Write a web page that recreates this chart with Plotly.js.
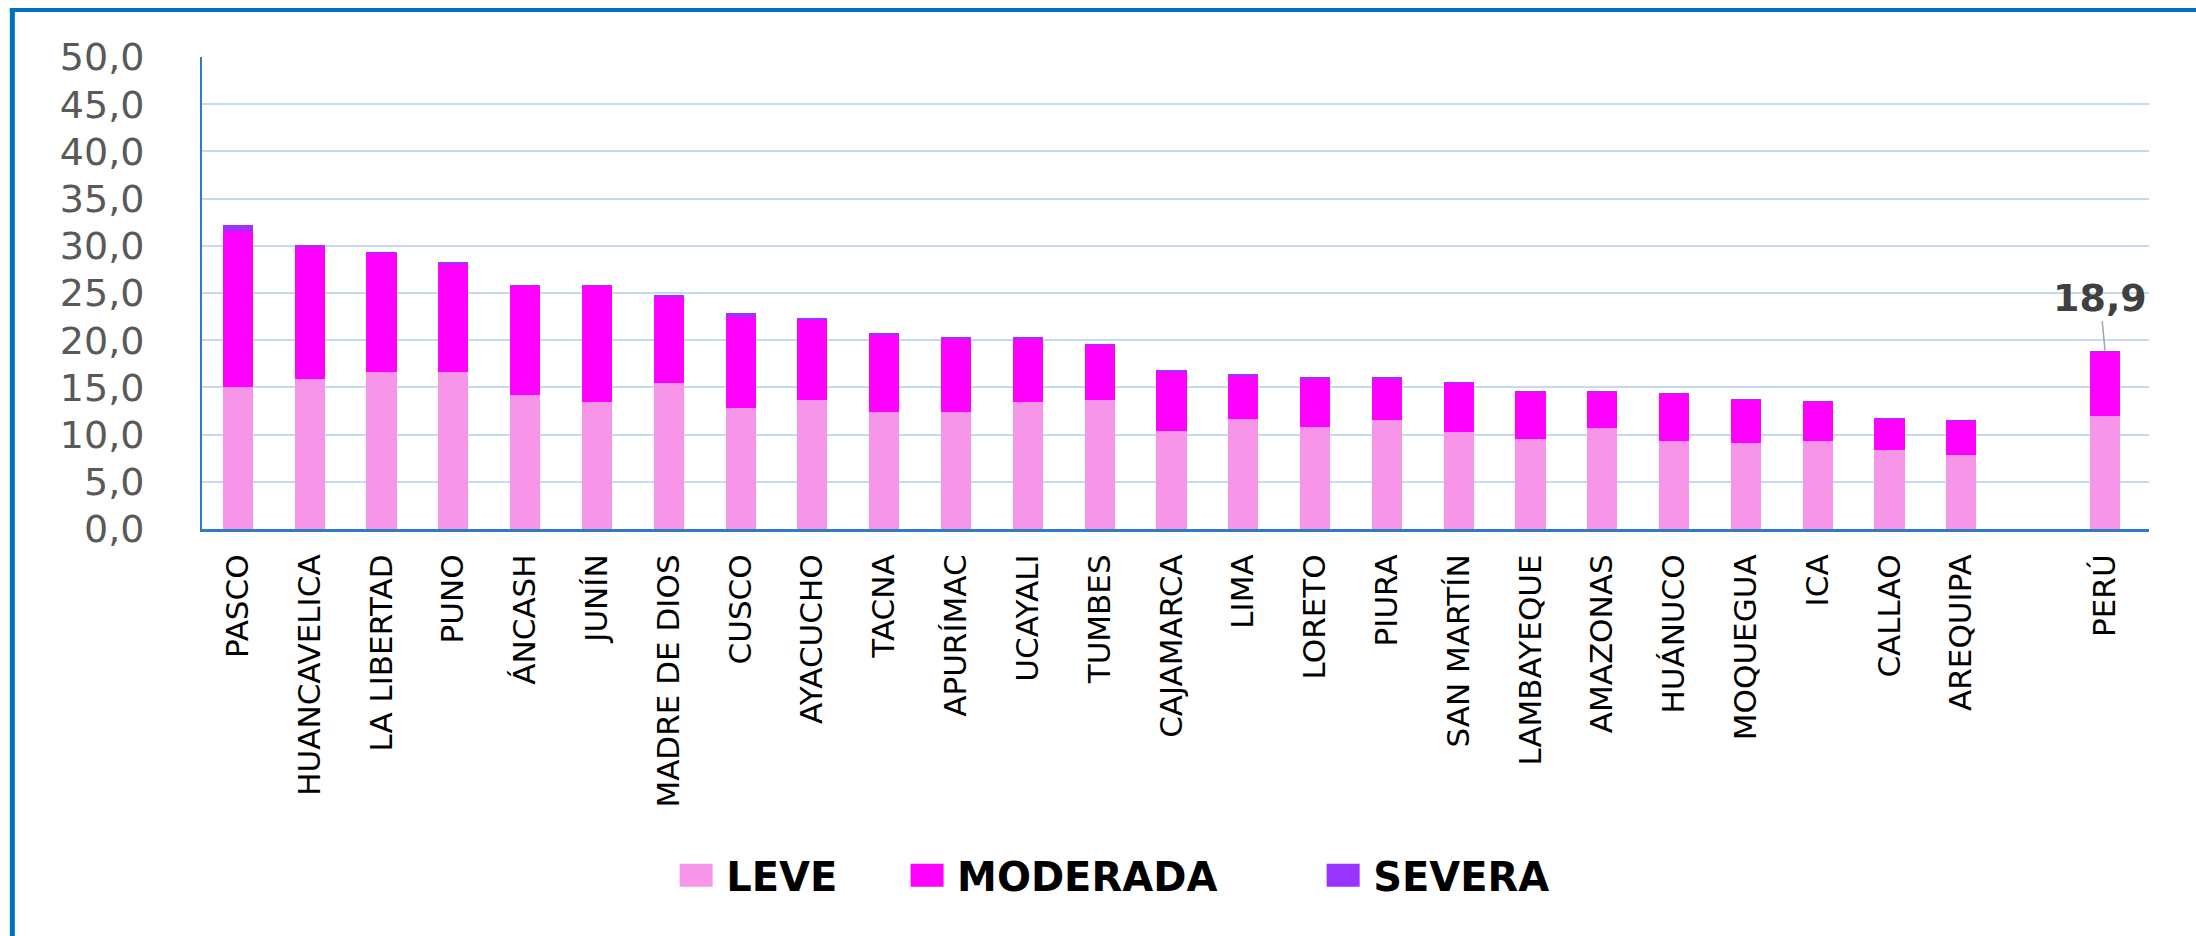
<!DOCTYPE html>
<html>
<head>
<meta charset="utf-8">
<script src="https://cdn.plot.ly/plotly-3.0.1.min.js"></script>
<style>
html, body { margin: 0; padding: 0; background: #ffffff; }
#chart { width: 2196px; height: 936px; }
</style>
</head>
<body>
<div id="chart"></div>
<script>
// Categories (the blank entry is the gap before the national total)
const categories = ["PASCO", "HUANCAVELICA", "LA LIBERTAD", "PUNO", "ÁNCASH", "JUNÍN", "MADRE DE DIOS",
  "CUSCO", "AYACUCHO", "TACNA", "APURÍMAC", "UCAYALI", "TUMBES", "CAJAMARCA", "LIMA", "LORETO",
  "PIURA", "SAN MARTÍN", "LAMBAYEQUE", "AMAZONAS", "HUÁNUCO", "MOQUEGUA", "ICA", "CALLAO", "AREQUIPA",
  " ", "PERÚ"];

// Series values (%)
const leve = [15.0, 15.9, 16.6, 16.6, 14.2, 13.5, 15.45, 12.8, 13.7, 12.4, 12.4, 13.5, 13.7, 10.4, 11.7,
  10.8, 11.5, 10.25, 9.5, 10.7, 9.3, 9.1, 9.3, 8.4, 7.8, null, 12.0];
const moderada = [16.6, 14.0, 12.6, 11.5, 11.5, 12.2, 9.1, 9.7, 8.4, 8.2, 7.75, 6.65, 5.8, 6.2, 4.5,
  5.1, 4.4, 5.2, 5.05, 3.85, 5.05, 4.55, 4.15, 3.25, 3.6, null, 6.8];
const severa = [0.6, 0.15, 0.15, 0.15, 0.15, 0.15, 0.2, 0.4, 0.2, 0.15, 0.15, 0.15, 0.15, 0.2, 0.2,
  0.2, 0.2, 0.15, 0.1, 0.1, 0.1, 0.15, 0.1, 0.15, 0.15, null, 0.1];

const yTicks = [0, 5, 10, 15, 20, 25, 30, 35, 40, 45, 50];
const seriesNames = ["LEVE", "MODERADA", "SEVERA"];
const seriesColors = ["#F796E9", "#FF00FF", "#9933FF"];
const labelCategory = "PERÚ";

const iPeru = categories.indexOf(labelCategory);
const peruTotal = leve[iPeru] + moderada[iPeru] + severa[iPeru];
const peruText = peruTotal.toFixed(1).replace(".", ",");

const legendFont = { family: "DejaVu Sans", size: 40, color: "#000000", weight: "bold" };

const traces = [leve, moderada, severa].map((vals, i) => ({
  type: "bar",
  name: seriesNames[i],
  x: categories,
  y: vals,
  marker: { color: seriesColors[i], line: { width: 0 } },
  legend: i === 0 ? "legend" : ("legend" + (i + 1)),
  hoverinfo: "skip"
}));

function legendAt(xp) {
  return {
    orientation: "h", x: xp, xanchor: "left", y: -0.7336, yanchor: "middle",
    font: legendFont, bgcolor: "rgba(0,0,0,0)", borderwidth: 0, itemwidth: 50
  };
}

const layout = {
  width: 2196,
  height: 936,
  margin: { l: 202, r: 47, t: 57, b: 407, pad: 0 },
  paper_bgcolor: "#ffffff",
  plot_bgcolor: "#ffffff",
  barmode: "stack",
  bargap: 0.58,
  separators: ",.",
  showlegend: true,
  legend: legendAt(0.2384),
  legend2: legendAt(0.3570),
  legend3: legendAt(0.5707),
  xaxis: {
    type: "category",
    categoryorder: "array",
    categoryarray: categories,
    tickangle: -90,
    tickfont: { family: "DejaVu Sans", size: 31, color: "#000000" },
    showgrid: false,
    showline: true,
    linecolor: "#2F7BC4",
    linewidth: 3,
    ticks: "",
    ticklabelstandoff: 10,
    zeroline: false,
    fixedrange: true
  },
  yaxis: {
    range: [0, 50],
    tickvals: yTicks,
    tickformat: ".1f",
    tickfont: { family: "DejaVu Sans", size: 38, color: "#595959" },
    showgrid: true,
    gridcolor: "#C5DAF0",
    gridwidth: 2,
    showline: true,
    linecolor: "#2F7BC4",
    linewidth: 2,
    ticks: "",
    ticklabelstandoff: 48,
    zeroline: false,
    fixedrange: true
  },
  annotations: [{
    x: labelCategory,
    y: peruTotal,
    xref: "x",
    yref: "y",
    text: peruText,
    showarrow: true,
    arrowhead: 0,
    arrowwidth: 1.5,
    arrowcolor: "#A6A6A6",
    standoff: 0,
    ax: -5,
    ay: -53,
    font: { family: "DejaVu Sans", size: 38, color: "#404040", weight: "bold" }
  }],
  shapes: [
    { type: "line", xref: "paper", yref: "paper", x0: -0.0987, x1: 1.03, y0: 1.0996, y1: 1.0996,
      line: { color: "#0070C0", width: 4 } },
    { type: "line", xref: "paper", yref: "paper", x0: -0.0974, x1: -0.0974, y0: 1.104, y1: -0.875,
      line: { color: "#0070C0", width: 5 } }
  ]
};

Plotly.newPlot("chart", traces, layout, { staticPlot: true, displayModeBar: false }).then(gd => {
  // enlarge the legend swatches to match the reference
  gd.querySelectorAll(".legendpoints path").forEach(p => {
    p.setAttribute("d", "M16.5,11.5H-16.5V-11.5H16.5Z");
  });
});
</script>
</body>
</html>
